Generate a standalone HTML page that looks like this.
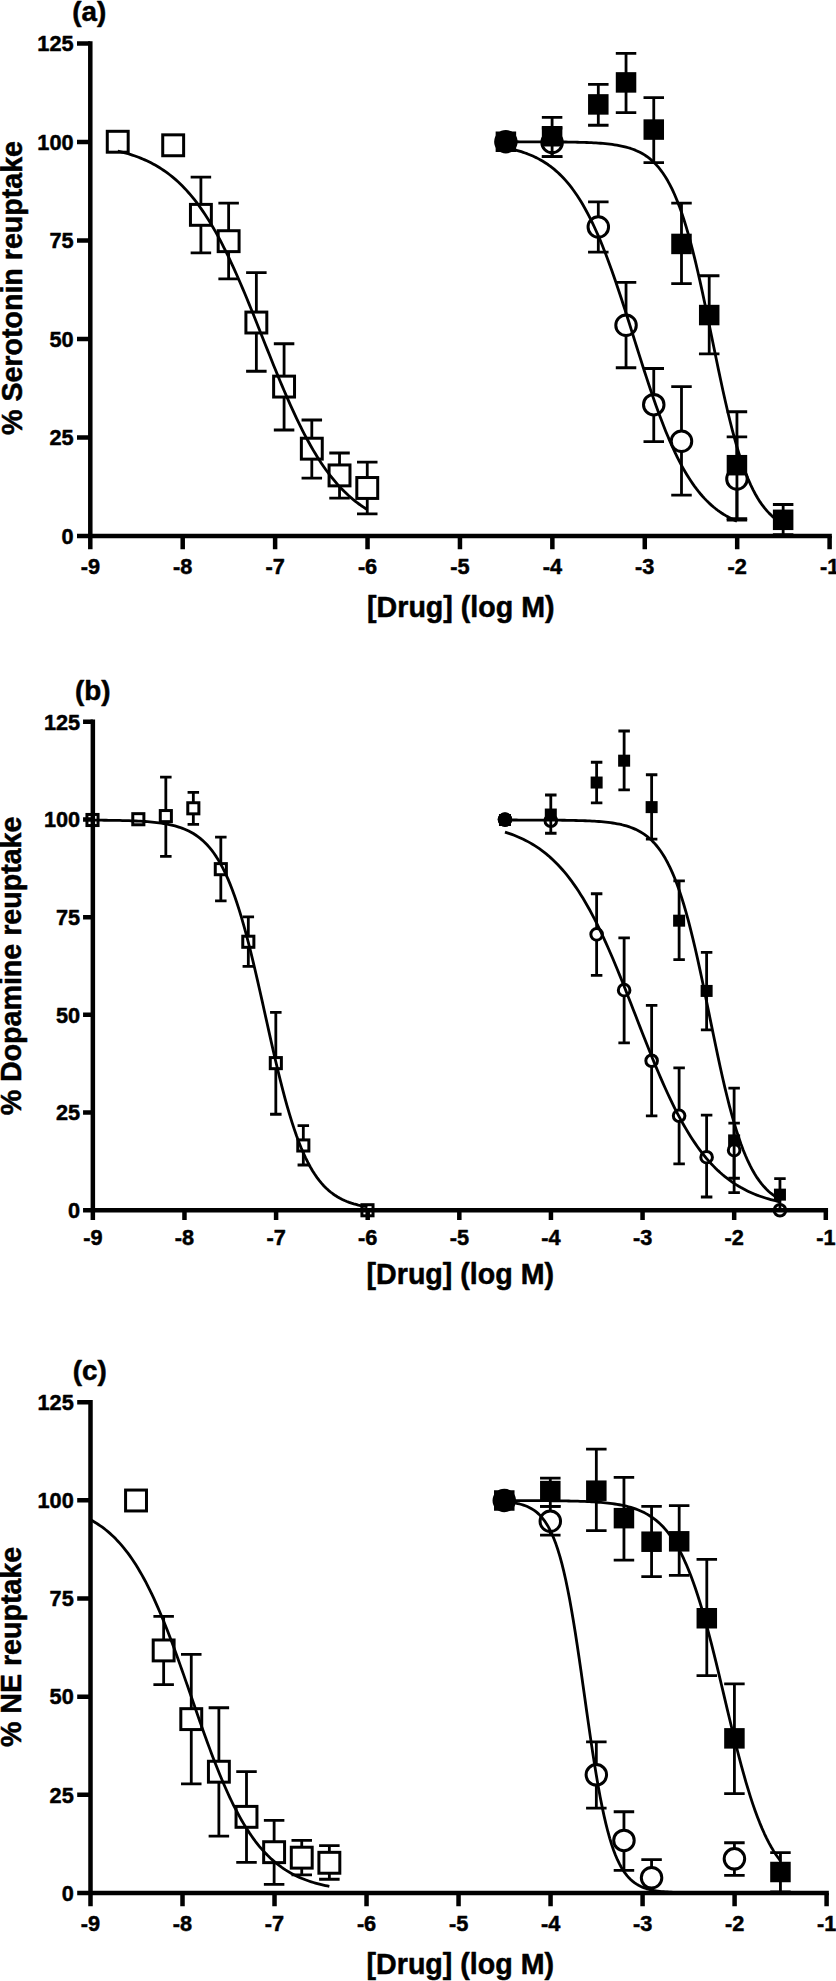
<!DOCTYPE html>
<html lang="en">
<head>
<meta charset="utf-8">
<title>Monoamine reuptake inhibition curves</title>
<style>
html,body{margin:0;padding:0;background:#fff;}
body{width:836px;height:1981px;overflow:hidden;font-family:'Liberation Sans', sans-serif;}
svg{display:block;}
</style>
</head>
<body>
<svg width="836" height="1981" viewBox="0 0 836 1981">
<rect x="0" y="0" width="836" height="1981" fill="#fff"/>
<g id="panel-a">
<rect x="107.28" y="131.3" width="20.9" height="20.9" fill="#fff" stroke="#000" stroke-width="3.0"/>
<rect x="162.73" y="134.84" width="20.9" height="20.9" fill="#fff" stroke="#000" stroke-width="3.0"/>
<path d="M200.9,177.12V252.97M190.65,177.12H211.15M190.65,252.97H211.15" fill="none" stroke="#000" stroke-width="2.8"/>
<rect x="190.45" y="204.4" width="20.9" height="20.9" fill="#fff" stroke="#000" stroke-width="3.0"/>
<path d="M228.63,203.06V278.91M218.38,203.06H238.88M218.38,278.91H238.88" fill="none" stroke="#000" stroke-width="2.8"/>
<rect x="218.18" y="230.73" width="20.9" height="20.9" fill="#fff" stroke="#000" stroke-width="3.0"/>
<path d="M256.36,272.62V371.26M246.11,272.62H266.61M246.11,371.26H266.61" fill="none" stroke="#000" stroke-width="2.8"/>
<rect x="245.91" y="312.08" width="20.9" height="20.9" fill="#fff" stroke="#000" stroke-width="3.0"/>
<path d="M284.08,343.75V430.02M273.83,343.75H294.33M273.83,430.02H294.33" fill="none" stroke="#000" stroke-width="2.8"/>
<rect x="273.63" y="376.14" width="20.9" height="20.9" fill="#fff" stroke="#000" stroke-width="3.0"/>
<path d="M311.81,419.99V478.16M301.56,419.99H322.06M301.56,478.16H322.06" fill="none" stroke="#000" stroke-width="2.8"/>
<rect x="301.36" y="438.23" width="20.9" height="20.9" fill="#fff" stroke="#000" stroke-width="3.0"/>
<path d="M339.53,453.01V498.2M329.28,453.01H349.78M329.28,498.2H349.78" fill="none" stroke="#000" stroke-width="2.8"/>
<rect x="329.08" y="464.96" width="20.9" height="20.9" fill="#fff" stroke="#000" stroke-width="3.0"/>
<path d="M367.26,462.05V513.92M357.01,462.05H377.51M357.01,513.92H377.51" fill="none" stroke="#000" stroke-width="2.8"/>
<rect x="356.81" y="477.53" width="20.9" height="20.9" fill="#fff" stroke="#000" stroke-width="3.0"/>
<circle cx="505.89" cy="141.75" r="10.25" fill="#fff" stroke="#000" stroke-width="3.0"/>
<path d="M552.1,128V156.68M541.85,128H562.35M541.85,156.68H562.35" fill="none" stroke="#000" stroke-width="2.8"/>
<circle cx="552.1" cy="142.54" r="10.25" fill="#fff" stroke="#000" stroke-width="3.0"/>
<path d="M598.31,201.88V252.18M588.06,201.88H608.56M588.06,252.18H608.56" fill="none" stroke="#000" stroke-width="2.8"/>
<circle cx="598.31" cy="227.03" r="10.25" fill="#fff" stroke="#000" stroke-width="3.0"/>
<path d="M626.04,282.44V367.73M615.79,282.44H636.29M615.79,367.73H636.29" fill="none" stroke="#000" stroke-width="2.8"/>
<circle cx="626.04" cy="325.28" r="10.25" fill="#fff" stroke="#000" stroke-width="3.0"/>
<path d="M653.76,368.51V441.61M643.51,368.51H664.01M643.51,441.61H664.01" fill="none" stroke="#000" stroke-width="2.8"/>
<circle cx="653.76" cy="404.67" r="10.25" fill="#fff" stroke="#000" stroke-width="3.0"/>
<path d="M681.49,386.59V495.06M671.24,386.59H691.74M671.24,495.06H691.74" fill="none" stroke="#000" stroke-width="2.8"/>
<circle cx="681.49" cy="441.22" r="10.25" fill="#fff" stroke="#000" stroke-width="3.0"/>
<path d="M736.94,436.89V520.21M726.69,436.89H747.19M726.69,520.21H747.19" fill="none" stroke="#000" stroke-width="2.8"/>
<circle cx="736.94" cy="478.94" r="10.25" fill="#fff" stroke="#000" stroke-width="3.0"/>
<rect x="495.64" y="131.5" width="20.5" height="20.5" fill="#000"/>
<path d="M552.1,117.38V156.68M541.85,117.38H562.35M541.85,156.68H562.35" fill="none" stroke="#000" stroke-width="2.8"/>
<rect x="541.85" y="126" width="20.5" height="20.5" fill="#000"/>
<path d="M598.31,84.37V125.24M588.06,84.37H608.56M588.06,125.24H608.56" fill="none" stroke="#000" stroke-width="2.8"/>
<rect x="588.06" y="94.16" width="20.5" height="20.5" fill="#000"/>
<path d="M626.04,53.32V112.67M615.79,53.32H636.29M615.79,112.67H636.29" fill="none" stroke="#000" stroke-width="2.8"/>
<rect x="615.79" y="72.16" width="20.5" height="20.5" fill="#000"/>
<path d="M653.76,97.54V162.58M643.51,97.54H664.01M643.51,162.58H664.01" fill="none" stroke="#000" stroke-width="2.8"/>
<rect x="643.51" y="119.32" width="20.5" height="20.5" fill="#000"/>
<path d="M681.49,203.06V283.62M671.24,203.06H691.74M671.24,283.62H691.74" fill="none" stroke="#000" stroke-width="2.8"/>
<rect x="671.24" y="233.68" width="20.5" height="20.5" fill="#000"/>
<path d="M709.21,275.76V353.97M698.96,275.76H719.46M698.96,353.97H719.46" fill="none" stroke="#000" stroke-width="2.8"/>
<rect x="698.96" y="304.81" width="20.5" height="20.5" fill="#000"/>
<path d="M736.94,411.74V518.64M726.69,411.74H747.19M726.69,518.64H747.19" fill="none" stroke="#000" stroke-width="2.8"/>
<rect x="726.69" y="454.94" width="20.5" height="20.5" fill="#000"/>
<path d="M783.15,504.49V534.75M772.9,504.49H793.4M772.9,534.75H793.4" fill="none" stroke="#000" stroke-width="2.8"/>
<rect x="772.9" y="509.57" width="20.5" height="20.5" fill="#000"/>
<path d="M117.73,151.02 L119.81,151.51 L121.88,152.03 L123.96,152.58 L126.04,153.16 L128.12,153.76 L130.2,154.4 L132.28,155.07 L134.36,155.78 L136.44,156.52 L138.52,157.29 L140.6,158.11 L142.68,158.97 L144.76,159.87 L146.84,160.81 L148.92,161.8 L151,162.84 L153.08,163.93 L155.16,165.08 L157.24,166.28 L159.31,167.53 L161.39,168.85 L163.47,170.23 L165.55,171.67 L167.63,173.18 L169.71,174.75 L171.79,176.4 L173.87,178.13 L175.95,179.93 L178.03,181.81 L180.11,183.77 L182.19,185.81 L184.27,187.94 L186.35,190.16 L188.43,192.48 L190.51,194.88 L192.59,197.38 L194.67,199.98 L196.75,202.67 L198.82,205.47 L200.9,208.37 L202.98,211.38 L205.06,214.49 L207.14,217.7 L209.22,221.03 L211.3,224.46 L213.38,228 L215.46,231.64 L217.54,235.4 L219.62,239.25 L221.7,243.22 L223.78,247.29 L225.86,251.46 L227.94,255.73 L230.02,260.09 L232.1,264.55 L234.18,269.1 L236.25,273.74 L238.33,278.46 L240.41,283.25 L242.49,288.12 L244.57,293.05 L246.65,298.05 L248.73,303.1 L250.81,308.2 L252.89,313.34 L254.97,318.51 L257.05,323.71 L259.13,328.94 L261.21,334.17 L263.29,339.42 L265.37,344.66 L267.45,349.89 L269.53,355.1 L271.61,360.29 L273.68,365.45 L275.76,370.58 L277.84,375.65 L279.92,380.68 L282,385.65 L284.08,390.55 L286.16,395.39 L288.24,400.15 L290.32,404.83 L292.4,409.43 L294.48,413.94 L296.56,418.36 L298.64,422.68 L300.72,426.91 L302.8,431.03 L304.88,435.06 L306.96,438.97 L309.04,442.79 L311.11,446.49 L313.19,450.09 L315.27,453.58 L317.35,456.96 L319.43,460.24 L321.51,463.41 L323.59,466.47 L325.67,469.43 L327.75,472.28 L329.83,475.04 L331.91,477.69 L333.99,480.24 L336.07,482.7 L338.15,485.06 L340.23,487.33 L342.31,489.51 L344.39,491.61 L346.47,493.61 L348.54,495.54 L350.62,497.38 L352.7,499.15 L354.78,500.84 L356.86,502.46 L358.94,504 L361.02,505.48 L363.1,506.89 L365.18,508.24 L367.26,509.53" fill="none" stroke="#000" stroke-width="2.8" stroke-linejoin="round"/>
<path d="M505.89,147.86 L507.82,148.24 L509.74,148.65 L511.67,149.09 L513.59,149.55 L515.52,150.04 L517.44,150.57 L519.37,151.12 L521.29,151.71 L523.22,152.33 L525.14,152.99 L527.07,153.69 L529,154.44 L530.92,155.22 L532.85,156.06 L534.77,156.95 L536.7,157.88 L538.62,158.88 L540.55,159.93 L542.47,161.04 L544.4,162.22 L546.32,163.46 L548.25,164.78 L550.17,166.16 L552.1,167.63 L554.03,169.18 L555.95,170.82 L557.88,172.54 L559.8,174.36 L561.73,176.27 L563.65,178.29 L565.58,180.41 L567.5,182.63 L569.43,184.98 L571.35,187.43 L573.28,190.01 L575.2,192.71 L577.13,195.55 L579.06,198.51 L580.98,201.6 L582.91,204.84 L584.83,208.21 L586.76,211.72 L588.68,215.38 L590.61,219.19 L592.53,223.14 L594.46,227.24 L596.38,231.48 L598.31,235.87 L600.24,240.41 L602.16,245.09 L604.09,249.91 L606.01,254.86 L607.94,259.95 L609.86,265.17 L611.79,270.51 L613.71,275.97 L615.64,281.53 L617.56,287.2 L619.49,292.95 L621.41,298.8 L623.34,304.71 L625.27,310.69 L627.19,316.72 L629.12,322.79 L631.04,328.89 L632.97,335.02 L634.89,341.14 L636.82,347.26 L638.74,353.37 L640.67,359.44 L642.59,365.47 L644.52,371.46 L646.45,377.37 L648.37,383.22 L650.3,388.98 L652.22,394.65 L654.15,400.23 L656.07,405.69 L658,411.03 L659.92,416.26 L661.85,421.35 L663.77,426.32 L665.7,431.15 L667.62,435.83 L669.55,440.38 L671.48,444.78 L673.4,449.03 L675.33,453.14 L677.25,457.1 L679.18,460.91 L681.1,464.57 L683.03,468.1 L684.95,471.48 L686.88,474.72 L688.8,477.82 L690.73,480.79 L692.66,483.63 L694.58,486.34 L696.51,488.93 L698.43,491.39 L700.36,493.74 L702.28,495.97 L704.21,498.1 L706.13,500.12 L708.06,502.04 L709.98,503.86 L711.91,505.59 L713.84,507.23 L715.76,508.78 L717.69,510.26 L719.61,511.65 L721.54,512.97 L723.46,514.22 L725.39,515.4 L727.31,516.51 L729.24,517.57 L731.16,518.56 L733.09,519.5 L735.01,520.39 L736.94,521.23" fill="none" stroke="#000" stroke-width="2.8" stroke-linejoin="round"/>
<path d="M505.89,141.76 L508.2,141.77 L510.51,141.77 L512.82,141.77 L515.13,141.77 L517.44,141.77 L519.75,141.78 L522.06,141.78 L524.37,141.78 L526.68,141.79 L529,141.79 L531.31,141.8 L533.62,141.8 L535.93,141.81 L538.24,141.82 L540.55,141.83 L542.86,141.84 L545.17,141.85 L547.48,141.86 L549.79,141.87 L552.1,141.89 L554.41,141.9 L556.72,141.92 L559.03,141.94 L561.34,141.97 L563.65,141.99 L565.96,142.02 L568.27,142.05 L570.58,142.09 L572.89,142.13 L575.2,142.18 L577.52,142.23 L579.83,142.29 L582.14,142.36 L584.45,142.43 L586.76,142.51 L589.07,142.61 L591.38,142.71 L593.69,142.83 L596,142.96 L598.31,143.11 L600.62,143.27 L602.93,143.46 L605.24,143.67 L607.55,143.9 L609.86,144.16 L612.17,144.45 L614.48,144.78 L616.79,145.14 L619.1,145.55 L621.41,146.01 L623.73,146.53 L626.04,147.1 L628.35,147.74 L630.66,148.46 L632.97,149.27 L635.28,150.16 L637.59,151.17 L639.9,152.28 L642.21,153.53 L644.52,154.92 L646.83,156.47 L649.14,158.19 L651.45,160.1 L653.76,162.22 L656.07,164.57 L658.38,167.18 L660.69,170.06 L663,173.24 L665.31,176.74 L667.62,180.58 L669.94,184.8 L672.25,189.42 L674.56,194.46 L676.87,199.93 L679.18,205.88 L681.49,212.3 L683.8,219.21 L686.11,226.62 L688.42,234.53 L690.73,242.93 L693.04,251.82 L695.35,261.17 L697.66,270.95 L699.97,281.13 L702.28,291.65 L704.59,302.46 L706.9,313.5 L709.21,324.7 L711.52,335.99 L713.84,347.29 L716.15,358.54 L718.46,369.65 L720.77,380.56 L723.08,391.2 L725.39,401.52 L727.7,411.47 L730.01,420.99 L732.32,430.07 L734.63,438.67 L736.94,446.78 L739.25,454.39 L741.56,461.5 L743.87,468.11 L746.18,474.25 L748.49,479.91 L750.8,485.12 L753.11,489.9 L755.42,494.27 L757.73,498.27 L760.04,501.9 L762.36,505.21 L764.67,508.2 L766.98,510.91 L769.29,513.37 L771.6,515.58 L773.91,517.57 L776.22,519.37 L778.53,520.98 L780.84,522.43 L783.15,523.73" fill="none" stroke="#000" stroke-width="2.8" stroke-linejoin="round"/>
<path d="M90.3,41.25V538.15M77,535.9H831.85" fill="none" stroke="#000" stroke-width="4.5"/>
<path d="M77,437.42H90.3M77,338.94H90.3M77,240.46H90.3M77,141.98H90.3M77,43.5H90.3M90.3,535.9V549.2M182.71,535.9V549.2M275.12,535.9V549.2M367.54,535.9V549.2M459.95,535.9V549.2M552.36,535.9V549.2M644.77,535.9V549.2M737.19,535.9V549.2M829.6,535.9V549.2" fill="none" stroke="#000" stroke-width="4.5"/>
<g font-family="'Liberation Sans', sans-serif" font-weight="bold" font-size="22.4" fill="#000" stroke="#000" stroke-width="0.5" stroke-linejoin="round">
<text transform="translate(73.55,543.67) scale(0.97,1)" text-anchor="end">0</text>
<text transform="translate(73.55,445.19) scale(0.97,1)" text-anchor="end">25</text>
<text transform="translate(73.55,346.71) scale(0.97,1)" text-anchor="end">50</text>
<text transform="translate(73.55,248.23) scale(0.97,1)" text-anchor="end">75</text>
<text transform="translate(73.55,149.75) scale(0.97,1)" text-anchor="end">100</text>
<text transform="translate(73.55,51.27) scale(0.97,1)" text-anchor="end">125</text>
<text transform="translate(90.3,573.8) scale(0.97,1)" text-anchor="middle">-9</text>
<text transform="translate(182.71,573.8) scale(0.97,1)" text-anchor="middle">-8</text>
<text transform="translate(275.12,573.8) scale(0.97,1)" text-anchor="middle">-7</text>
<text transform="translate(367.54,573.8) scale(0.97,1)" text-anchor="middle">-6</text>
<text transform="translate(459.95,573.8) scale(0.97,1)" text-anchor="middle">-5</text>
<text transform="translate(552.36,573.8) scale(0.97,1)" text-anchor="middle">-4</text>
<text transform="translate(644.77,573.8) scale(0.97,1)" text-anchor="middle">-3</text>
<text transform="translate(737.19,573.8) scale(0.97,1)" text-anchor="middle">-2</text>
<text transform="translate(829.6,573.8) scale(0.97,1)" text-anchor="middle">-1</text>
</g>
<g font-family="'Liberation Sans', sans-serif" font-weight="bold" fill="#000" stroke="#000" stroke-width="0.5" stroke-linejoin="round">
<text x="89.25" y="21" font-size="27.8" text-anchor="middle">(a)</text>
<text x="460.8" y="617" font-size="28.6" text-anchor="middle">[Drug] (log M)</text>
<text transform="translate(21.5,288) rotate(-90)" font-size="28.6" text-anchor="middle">% Serotonin reuptake</text>
</g>
</g>
<g id="panel-b">
<rect x="86.95" y="814.45" width="11.1" height="11.1" fill="#fff" stroke="#000" stroke-width="3.0"/>
<rect x="132.78" y="813.67" width="11.1" height="11.1" fill="#fff" stroke="#000" stroke-width="3.0"/>
<path d="M165.83,777.07V856.29M160.08,777.07H171.58M160.08,856.29H171.58" fill="none" stroke="#000" stroke-width="2.8"/>
<rect x="160.28" y="810.55" width="11.1" height="11.1" fill="#fff" stroke="#000" stroke-width="3.0"/>
<path d="M193.33,792.29V824.29M187.58,792.29H199.08M187.58,824.29H199.08" fill="none" stroke="#000" stroke-width="2.8"/>
<rect x="187.78" y="802.74" width="11.1" height="11.1" fill="#fff" stroke="#000" stroke-width="3.0"/>
<path d="M220.82,837.17V900.78M215.07,837.17H226.57M215.07,900.78H226.57" fill="none" stroke="#000" stroke-width="2.8"/>
<rect x="215.27" y="863.62" width="11.1" height="11.1" fill="#fff" stroke="#000" stroke-width="3.0"/>
<path d="M248.32,916.78V966.34M242.57,916.78H254.07M242.57,966.34H254.07" fill="none" stroke="#000" stroke-width="2.8"/>
<rect x="242.77" y="936.21" width="11.1" height="11.1" fill="#fff" stroke="#000" stroke-width="3.0"/>
<path d="M275.82,1012.39V1114.25M270.07,1012.39H281.57M270.07,1114.25H281.57" fill="none" stroke="#000" stroke-width="2.8"/>
<rect x="270.27" y="1057.58" width="11.1" height="11.1" fill="#fff" stroke="#000" stroke-width="3.0"/>
<path d="M303.32,1125.57V1164.98M297.57,1125.57H309.07M297.57,1164.98H309.07" fill="none" stroke="#000" stroke-width="2.8"/>
<rect x="297.77" y="1139.92" width="11.1" height="11.1" fill="#fff" stroke="#000" stroke-width="3.0"/>
<rect x="361.93" y="1204.7" width="11.1" height="11.1" fill="#fff" stroke="#000" stroke-width="3.0"/>
<circle cx="504.97" cy="819.61" r="5.8" fill="#fff" stroke="#000" stroke-width="3.0"/>
<circle cx="550.8" cy="820.78" r="5.8" fill="#fff" stroke="#000" stroke-width="3.0"/>
<path d="M596.63,893.76V975.32M590.88,893.76H602.38M590.88,975.32H602.38" fill="none" stroke="#000" stroke-width="2.8"/>
<circle cx="596.63" cy="934.34" r="5.8" fill="#fff" stroke="#000" stroke-width="3.0"/>
<path d="M624.13,937.86V1042.83M618.38,937.86H629.88M618.38,1042.83H629.88" fill="none" stroke="#000" stroke-width="2.8"/>
<circle cx="624.13" cy="990.15" r="5.8" fill="#fff" stroke="#000" stroke-width="3.0"/>
<path d="M651.63,1005.37V1115.81M645.88,1005.37H657.38M645.88,1115.81H657.38" fill="none" stroke="#000" stroke-width="2.8"/>
<circle cx="651.63" cy="1060.78" r="5.8" fill="#fff" stroke="#000" stroke-width="3.0"/>
<path d="M679.12,1067.81V1163.81M673.37,1067.81H684.87M673.37,1163.81H684.87" fill="none" stroke="#000" stroke-width="2.8"/>
<circle cx="679.12" cy="1115.81" r="5.8" fill="#fff" stroke="#000" stroke-width="3.0"/>
<path d="M706.62,1115.03V1196.98M700.87,1115.03H712.37M700.87,1196.98H712.37" fill="none" stroke="#000" stroke-width="2.8"/>
<circle cx="706.62" cy="1157.18" r="5.8" fill="#fff" stroke="#000" stroke-width="3.0"/>
<path d="M734.12,1123.22V1178.25M728.37,1123.22H739.87M728.37,1178.25H739.87" fill="none" stroke="#000" stroke-width="2.8"/>
<circle cx="734.12" cy="1150.15" r="5.8" fill="#fff" stroke="#000" stroke-width="3.0"/>
<circle cx="779.95" cy="1210.25" r="5.8" fill="#fff" stroke="#000" stroke-width="3.0"/>
<rect x="498.97" y="814" width="12" height="12" fill="#000"/>
<path d="M550.8,795.02V833.27M545.05,795.02H556.55M545.05,833.27H556.55" fill="none" stroke="#000" stroke-width="2.8"/>
<rect x="544.8" y="808.54" width="12" height="12" fill="#000"/>
<path d="M596.63,762.24V802.83M590.88,762.24H602.38M590.88,802.83H602.38" fill="none" stroke="#000" stroke-width="2.8"/>
<rect x="590.63" y="776.54" width="12" height="12" fill="#000"/>
<path d="M624.13,731.02V789.95M618.38,731.02H629.88M618.38,789.95H629.88" fill="none" stroke="#000" stroke-width="2.8"/>
<rect x="618.13" y="754.68" width="12" height="12" fill="#000"/>
<path d="M651.63,774.73V839.12M645.88,774.73H657.38M645.88,839.12H657.38" fill="none" stroke="#000" stroke-width="2.8"/>
<rect x="645.63" y="801.12" width="12" height="12" fill="#000"/>
<path d="M679.12,880.88V959.71M673.37,880.88H684.87M673.37,959.71H684.87" fill="none" stroke="#000" stroke-width="2.8"/>
<rect x="673.12" y="914.68" width="12" height="12" fill="#000"/>
<path d="M706.62,952.29V1029.95M700.87,952.29H712.37M700.87,1029.95H712.37" fill="none" stroke="#000" stroke-width="2.8"/>
<rect x="700.62" y="984.93" width="12" height="12" fill="#000"/>
<path d="M734.12,1088.1V1192.69M728.37,1088.1H739.87M728.37,1192.69H739.87" fill="none" stroke="#000" stroke-width="2.8"/>
<rect x="728.12" y="1134.4" width="12" height="12" fill="#000"/>
<path d="M779.95,1178.64V1210.25M774.2,1178.64H785.7M774.2,1210.25H785.7" fill="none" stroke="#000" stroke-width="2.8"/>
<rect x="773.95" y="1188.64" width="12" height="12" fill="#000"/>
<circle cx="504.97" cy="819.61" r="7.2" fill="#000"/>
<path d="M92.5,820.13 L94.79,820.15 L97.08,820.16 L99.37,820.18 L101.67,820.2 L103.96,820.23 L106.25,820.25 L108.54,820.28 L110.83,820.31 L113.12,820.34 L115.41,820.38 L117.71,820.43 L120,820.47 L122.29,820.53 L124.58,820.58 L126.87,820.65 L129.16,820.72 L131.46,820.8 L133.75,820.89 L136.04,820.99 L138.33,821.1 L140.62,821.22 L142.91,821.36 L145.2,821.51 L147.5,821.68 L149.79,821.87 L152.08,822.07 L154.37,822.3 L156.66,822.56 L158.95,822.84 L161.25,823.16 L163.54,823.51 L165.83,823.9 L168.12,824.33 L170.41,824.8 L172.7,825.33 L174.99,825.92 L177.29,826.57 L179.58,827.29 L181.87,828.09 L184.16,828.97 L186.45,829.95 L188.74,831.03 L191.03,832.22 L193.33,833.54 L195.62,834.99 L197.91,836.6 L200.2,838.37 L202.49,840.31 L204.78,842.45 L207.07,844.8 L209.37,847.38 L211.66,850.2 L213.95,853.28 L216.24,856.65 L218.53,860.33 L220.82,864.32 L223.12,868.65 L225.41,873.35 L227.7,878.41 L229.99,883.87 L232.28,889.73 L234.57,896.01 L236.86,902.7 L239.16,909.82 L241.45,917.35 L243.74,925.29 L246.03,933.63 L248.32,942.34 L250.61,951.41 L252.91,960.8 L255.2,970.46 L257.49,980.37 L259.78,990.46 L262.07,1000.68 L264.36,1010.99 L266.65,1021.32 L268.95,1031.62 L271.24,1041.82 L273.53,1051.88 L275.82,1061.74 L278.11,1071.35 L280.4,1080.68 L282.69,1089.68 L284.99,1098.32 L287.28,1106.58 L289.57,1114.44 L291.86,1121.89 L294.15,1128.92 L296.44,1135.53 L298.74,1141.72 L301.03,1147.5 L303.32,1152.88 L305.61,1157.87 L307.9,1162.49 L310.19,1166.76 L312.48,1170.68 L314.78,1174.29 L317.07,1177.61 L319.36,1180.64 L321.65,1183.41 L323.94,1185.94 L326.23,1188.24 L328.52,1190.34 L330.82,1192.25 L333.11,1193.98 L335.4,1195.56 L337.69,1196.98 L339.98,1198.28 L342.27,1199.45 L344.56,1200.51 L346.86,1201.46 L349.15,1202.33 L351.44,1203.11 L353.73,1203.82 L356.02,1204.45 L358.31,1205.03 L360.61,1205.55 L362.9,1206.01 L365.19,1206.44 L367.48,1206.82" fill="none" stroke="#000" stroke-width="2.8" stroke-linejoin="round"/>
<path d="M504.97,832.12 L507.26,832.85 L509.55,833.62 L511.84,834.44 L514.14,835.3 L516.43,836.22 L518.72,837.18 L521.01,838.21 L523.3,839.28 L525.59,840.42 L527.88,841.62 L530.18,842.89 L532.47,844.23 L534.76,845.64 L537.05,847.13 L539.34,848.69 L541.63,850.34 L543.93,852.08 L546.22,853.9 L548.51,855.82 L550.8,857.84 L553.09,859.95 L555.38,862.17 L557.67,864.5 L559.97,866.94 L562.26,869.49 L564.55,872.16 L566.84,874.96 L569.13,877.87 L571.42,880.92 L573.71,884.09 L576.01,887.39 L578.3,890.83 L580.59,894.4 L582.88,898.11 L585.17,901.95 L587.46,905.94 L589.76,910.05 L592.05,914.31 L594.34,918.7 L596.63,923.22 L598.92,927.88 L601.21,932.66 L603.5,937.56 L605.8,942.59 L608.09,947.72 L610.38,952.97 L612.67,958.32 L614.96,963.76 L617.25,969.29 L619.54,974.9 L621.84,980.58 L624.13,986.32 L626.42,992.12 L628.71,997.95 L631,1003.82 L633.29,1009.7 L635.59,1015.6 L637.88,1021.49 L640.17,1027.37 L642.46,1033.24 L644.75,1039.06 L647.04,1044.85 L649.33,1050.58 L651.63,1056.25 L653.92,1061.85 L656.21,1067.36 L658.5,1072.79 L660.79,1078.13 L663.08,1083.36 L665.38,1088.48 L667.67,1093.48 L669.96,1098.37 L672.25,1103.13 L674.54,1107.76 L676.83,1112.26 L679.12,1116.63 L681.42,1120.86 L683.71,1124.96 L686,1128.92 L688.29,1132.74 L690.58,1136.43 L692.87,1139.98 L695.16,1143.4 L697.46,1146.68 L699.75,1149.83 L702.04,1152.85 L704.33,1155.75 L706.62,1158.52 L708.91,1161.17 L711.2,1163.71 L713.5,1166.13 L715.79,1168.44 L718.08,1170.64 L720.37,1172.74 L722.66,1174.74 L724.95,1176.65 L727.25,1178.46 L729.54,1180.18 L731.83,1181.81 L734.12,1183.37 L736.41,1184.84 L738.7,1186.24 L740.99,1187.57 L743.29,1188.82 L745.58,1190.01 L747.87,1191.14 L750.16,1192.21 L752.45,1193.22 L754.74,1194.18 L757.03,1195.09 L759.33,1195.94 L761.62,1196.75 L763.91,1197.52 L766.2,1198.24 L768.49,1198.93 L770.78,1199.57 L773.08,1200.18 L775.37,1200.76 L777.66,1201.3 L779.95,1201.82" fill="none" stroke="#000" stroke-width="2.8" stroke-linejoin="round"/>
<path d="M504.97,820.01 L507.26,820.02 L509.55,820.02 L511.84,820.02 L514.14,820.02 L516.43,820.02 L518.72,820.03 L521.01,820.03 L523.3,820.03 L525.59,820.04 L527.88,820.04 L530.18,820.05 L532.47,820.05 L534.76,820.06 L537.05,820.07 L539.34,820.08 L541.63,820.09 L543.93,820.1 L546.22,820.11 L548.51,820.12 L550.8,820.14 L553.09,820.15 L555.38,820.17 L557.67,820.19 L559.97,820.21 L562.26,820.24 L564.55,820.27 L566.84,820.3 L569.13,820.34 L571.42,820.38 L573.71,820.43 L576.01,820.48 L578.3,820.54 L580.59,820.6 L582.88,820.68 L585.17,820.76 L587.46,820.85 L589.76,820.96 L592.05,821.07 L594.34,821.2 L596.63,821.35 L598.92,821.51 L601.21,821.7 L603.5,821.9 L605.8,822.13 L608.09,822.39 L610.38,822.68 L612.67,823.01 L614.96,823.37 L617.25,823.78 L619.54,824.23 L621.84,824.74 L624.13,825.31 L626.42,825.95 L628.71,826.67 L631,827.46 L633.29,828.35 L635.59,829.35 L637.88,830.46 L640.17,831.7 L642.46,833.08 L644.75,834.61 L647.04,836.32 L649.33,838.22 L651.63,840.33 L653.92,842.67 L656.21,845.25 L658.5,848.11 L660.79,851.27 L663.08,854.74 L665.38,858.56 L667.67,862.75 L669.96,867.34 L672.25,872.34 L674.54,877.78 L676.83,883.68 L679.12,890.05 L681.42,896.91 L683.71,904.27 L686,912.13 L688.29,920.48 L690.58,929.3 L692.87,938.59 L695.16,948.3 L697.46,958.4 L699.75,968.85 L702.04,979.58 L704.33,990.55 L706.62,1001.67 L708.91,1012.88 L711.2,1024.1 L713.5,1035.27 L715.79,1046.31 L718.08,1057.14 L720.37,1067.71 L722.66,1077.95 L724.95,1087.83 L727.25,1097.29 L729.54,1106.3 L731.83,1114.84 L734.12,1122.89 L736.41,1130.45 L738.7,1137.51 L740.99,1144.08 L743.29,1150.17 L745.58,1155.79 L747.87,1160.97 L750.16,1165.71 L752.45,1170.06 L754.74,1174.02 L757.03,1177.63 L759.33,1180.91 L761.62,1183.89 L763.91,1186.58 L766.2,1189.02 L768.49,1191.21 L770.78,1193.19 L773.08,1194.97 L775.37,1196.58 L777.66,1198.02 L779.95,1199.31" fill="none" stroke="#000" stroke-width="2.8" stroke-linejoin="round"/>
<path d="M92.85,719.5V1212.5M83.05,1210.25H828.05" fill="none" stroke="#000" stroke-width="4.5"/>
<path d="M83.05,1112.55H92.85M83.05,1014.85H92.85M83.05,917.15H92.85M83.05,819.45H92.85M83.05,721.75H92.85M92.85,1210.25V1220.05M184.47,1210.25V1220.05M276.09,1210.25V1220.05M367.71,1210.25V1220.05M459.32,1210.25V1220.05M550.94,1210.25V1220.05M642.56,1210.25V1220.05M734.18,1210.25V1220.05M825.8,1210.25V1220.05" fill="none" stroke="#000" stroke-width="4.5"/>
<g font-family="'Liberation Sans', sans-serif" font-weight="bold" font-size="22.4" fill="#000" stroke="#000" stroke-width="0.5" stroke-linejoin="round">
<text transform="translate(80.2,1218.02) scale(0.97,1)" text-anchor="end">0</text>
<text transform="translate(80.2,1120.32) scale(0.97,1)" text-anchor="end">25</text>
<text transform="translate(80.2,1022.62) scale(0.97,1)" text-anchor="end">50</text>
<text transform="translate(80.2,924.92) scale(0.97,1)" text-anchor="end">75</text>
<text transform="translate(80.2,827.22) scale(0.97,1)" text-anchor="end">100</text>
<text transform="translate(80.2,729.52) scale(0.97,1)" text-anchor="end">125</text>
<text transform="translate(92.85,1245.25) scale(0.97,1)" text-anchor="middle">-9</text>
<text transform="translate(184.47,1245.25) scale(0.97,1)" text-anchor="middle">-8</text>
<text transform="translate(276.09,1245.25) scale(0.97,1)" text-anchor="middle">-7</text>
<text transform="translate(367.71,1245.25) scale(0.97,1)" text-anchor="middle">-6</text>
<text transform="translate(459.32,1245.25) scale(0.97,1)" text-anchor="middle">-5</text>
<text transform="translate(550.94,1245.25) scale(0.97,1)" text-anchor="middle">-4</text>
<text transform="translate(642.56,1245.25) scale(0.97,1)" text-anchor="middle">-3</text>
<text transform="translate(734.18,1245.25) scale(0.97,1)" text-anchor="middle">-2</text>
<text transform="translate(825.8,1245.25) scale(0.97,1)" text-anchor="middle">-1</text>
</g>
<g font-family="'Liberation Sans', sans-serif" font-weight="bold" fill="#000" stroke="#000" stroke-width="0.5" stroke-linejoin="round">
<text x="92.8" y="699.5" font-size="27.8" text-anchor="middle">(b)</text>
<text x="460.3" y="1283.7" font-size="28.6" text-anchor="middle">[Drug] (log M)</text>
<text transform="translate(20.8,966) rotate(-90)" font-size="28.6" text-anchor="middle">% Dopamine reuptake</text>
</g>
</g>
<g id="panel-c">
<rect x="125.58" y="1490.05" width="20.9" height="20.9" fill="#fff" stroke="#000" stroke-width="3.0"/>
<path d="M163.65,1616.29V1684.58M153.4,1616.29H173.9M153.4,1684.58H173.9" fill="none" stroke="#000" stroke-width="2.8"/>
<rect x="153.2" y="1639.98" width="20.9" height="20.9" fill="#fff" stroke="#000" stroke-width="3.0"/>
<path d="M191.27,1654.36V1783.88M181.02,1654.36H201.52M181.02,1783.88H201.52" fill="none" stroke="#000" stroke-width="2.8"/>
<rect x="180.82" y="1708.67" width="20.9" height="20.9" fill="#fff" stroke="#000" stroke-width="3.0"/>
<path d="M218.88,1707.74V1836.09M208.63,1707.74H229.13M208.63,1836.09H229.13" fill="none" stroke="#000" stroke-width="2.8"/>
<rect x="208.43" y="1761.27" width="20.9" height="20.9" fill="#fff" stroke="#000" stroke-width="3.0"/>
<path d="M246.5,1771.72V1862.38M236.25,1771.72H256.75M236.25,1862.38H256.75" fill="none" stroke="#000" stroke-width="2.8"/>
<rect x="236.05" y="1806.4" width="20.9" height="20.9" fill="#fff" stroke="#000" stroke-width="3.0"/>
<path d="M274.12,1820.39V1884.37M263.87,1820.39H284.37M263.87,1884.37H284.37" fill="none" stroke="#000" stroke-width="2.8"/>
<rect x="263.67" y="1841.73" width="20.9" height="20.9" fill="#fff" stroke="#000" stroke-width="3.0"/>
<path d="M301.74,1840.4V1874.94M291.49,1840.4H311.99M291.49,1874.94H311.99" fill="none" stroke="#000" stroke-width="2.8"/>
<rect x="291.29" y="1847.22" width="20.9" height="20.9" fill="#fff" stroke="#000" stroke-width="3.0"/>
<path d="M329.36,1845.7V1879.26M319.11,1845.7H339.61M319.11,1879.26H339.61" fill="none" stroke="#000" stroke-width="2.8"/>
<rect x="318.91" y="1852.33" width="20.9" height="20.9" fill="#fff" stroke="#000" stroke-width="3.0"/>
<circle cx="504.27" cy="1500.5" r="10.25" fill="#fff" stroke="#000" stroke-width="3.0"/>
<path d="M550.3,1506.39V1535.04M540.05,1506.39H560.55M540.05,1535.04H560.55" fill="none" stroke="#000" stroke-width="2.8"/>
<circle cx="550.3" cy="1521.3" r="10.25" fill="#fff" stroke="#000" stroke-width="3.0"/>
<path d="M596.33,1741.89V1808.22M586.08,1741.89H606.58M586.08,1808.22H606.58" fill="none" stroke="#000" stroke-width="2.8"/>
<circle cx="596.33" cy="1774.86" r="10.25" fill="#fff" stroke="#000" stroke-width="3.0"/>
<path d="M623.95,1811.75V1870.43M613.7,1811.75H634.2M613.7,1870.43H634.2" fill="none" stroke="#000" stroke-width="2.8"/>
<circle cx="623.95" cy="1840.4" r="10.25" fill="#fff" stroke="#000" stroke-width="3.0"/>
<path d="M651.57,1859.64V1893M641.32,1859.64H661.82M641.32,1893H661.82" fill="none" stroke="#000" stroke-width="2.8"/>
<circle cx="651.57" cy="1877.69" r="10.25" fill="#fff" stroke="#000" stroke-width="3.0"/>
<path d="M734.42,1842.76V1875.34M724.17,1842.76H744.67M724.17,1875.34H744.67" fill="none" stroke="#000" stroke-width="2.8"/>
<circle cx="734.42" cy="1858.85" r="10.25" fill="#fff" stroke="#000" stroke-width="3.0"/>
<rect x="494.02" y="1490.25" width="20.5" height="20.5" fill="#000"/>
<path d="M550.3,1478.13V1506.39M540.05,1478.13H560.55M540.05,1506.39H560.55" fill="none" stroke="#000" stroke-width="2.8"/>
<rect x="540.05" y="1480.83" width="20.5" height="20.5" fill="#000"/>
<path d="M596.33,1449.08V1530.72M586.08,1449.08H606.58M586.08,1530.72H606.58" fill="none" stroke="#000" stroke-width="2.8"/>
<rect x="586.08" y="1480.44" width="20.5" height="20.5" fill="#000"/>
<path d="M623.95,1477.34V1560.16M613.7,1477.34H634.2M613.7,1560.16H634.2" fill="none" stroke="#000" stroke-width="2.8"/>
<rect x="613.7" y="1507.91" width="20.5" height="20.5" fill="#000"/>
<path d="M651.57,1506.39V1576.64M641.32,1506.39H661.82M641.32,1576.64H661.82" fill="none" stroke="#000" stroke-width="2.8"/>
<rect x="641.32" y="1531.46" width="20.5" height="20.5" fill="#000"/>
<path d="M679.18,1505.6V1575.47M668.93,1505.6H689.43M668.93,1575.47H689.43" fill="none" stroke="#000" stroke-width="2.8"/>
<rect x="668.93" y="1531.07" width="20.5" height="20.5" fill="#000"/>
<path d="M706.8,1559.38V1675.56M696.55,1559.38H717.05M696.55,1675.56H717.05" fill="none" stroke="#000" stroke-width="2.8"/>
<rect x="696.55" y="1608" width="20.5" height="20.5" fill="#000"/>
<path d="M734.42,1683.8V1793.7M724.17,1683.8H744.67M724.17,1793.7H744.67" fill="none" stroke="#000" stroke-width="2.8"/>
<rect x="724.17" y="1728.11" width="20.5" height="20.5" fill="#000"/>
<path d="M780.45,1852.57V1891.82M770.2,1852.57H790.7M770.2,1891.82H790.7" fill="none" stroke="#000" stroke-width="2.8"/>
<rect x="770.2" y="1861.75" width="20.5" height="20.5" fill="#000"/>
<path d="M90,1519.5 L91.99,1520.59 L93.99,1521.73 L95.98,1522.94 L97.98,1524.22 L99.97,1525.56 L101.97,1526.97 L103.96,1528.46 L105.96,1530.02 L107.95,1531.66 L109.95,1533.39 L111.94,1535.2 L113.94,1537.1 L115.93,1539.09 L117.92,1541.19 L119.92,1543.37 L121.91,1545.67 L123.91,1548.07 L125.9,1550.57 L127.9,1553.19 L129.89,1555.93 L131.89,1558.78 L133.88,1561.75 L135.88,1564.85 L137.87,1568.06 L139.87,1571.41 L141.86,1574.88 L143.86,1578.48 L145.85,1582.21 L147.84,1586.08 L149.84,1590.07 L151.83,1594.19 L153.83,1598.44 L155.82,1602.81 L157.82,1607.31 L159.81,1611.93 L161.81,1616.67 L163.8,1621.53 L165.8,1626.49 L167.79,1631.56 L169.79,1636.74 L171.78,1642 L173.77,1647.35 L175.77,1652.78 L177.76,1658.28 L179.76,1663.85 L181.75,1669.47 L183.75,1675.14 L185.74,1680.84 L187.74,1686.57 L189.73,1692.32 L191.73,1698.08 L193.72,1703.83 L195.72,1709.57 L197.71,1715.29 L199.7,1720.98 L201.7,1726.63 L203.69,1732.23 L205.69,1737.76 L207.68,1743.23 L209.68,1748.63 L211.67,1753.94 L213.67,1759.16 L215.66,1764.29 L217.66,1769.31 L219.65,1774.23 L221.65,1779.03 L223.64,1783.72 L225.64,1788.28 L227.63,1792.72 L229.62,1797.04 L231.62,1801.23 L233.61,1805.29 L235.61,1809.22 L237.6,1813.02 L239.6,1816.69 L241.59,1820.24 L243.59,1823.65 L245.58,1826.94 L247.58,1830.1 L249.57,1833.14 L251.57,1836.05 L253.56,1838.85 L255.55,1841.53 L257.55,1844.1 L259.54,1846.55 L261.54,1848.9 L263.53,1851.15 L265.53,1853.29 L267.52,1855.34 L269.52,1857.29 L271.51,1859.15 L273.51,1860.92 L275.5,1862.61 L277.5,1864.21 L279.49,1865.74 L281.48,1867.19 L283.48,1868.57 L285.47,1869.88 L287.47,1871.12 L289.46,1872.3 L291.46,1873.42 L293.45,1874.49 L295.45,1875.49 L297.44,1876.45 L299.44,1877.36 L301.43,1878.21 L303.43,1879.03 L305.42,1879.8 L307.42,1880.52 L309.41,1881.21 L311.4,1881.87 L313.4,1882.48 L315.39,1883.07 L317.39,1883.62 L319.38,1884.14 L321.38,1884.64 L323.37,1885.1 L325.37,1885.54 L327.36,1885.96 L329.36,1886.36" fill="none" stroke="#000" stroke-width="2.8" stroke-linejoin="round"/>
<path d="M504.27,1501.65 L506.19,1501.82 L508.11,1502.02 L510.02,1502.24 L511.94,1502.5 L513.86,1502.8 L515.78,1503.14 L517.7,1503.53 L519.61,1503.98 L521.53,1504.49 L523.45,1505.08 L525.37,1505.76 L527.29,1506.53 L529.2,1507.42 L531.12,1508.43 L533.04,1509.58 L534.96,1510.9 L536.87,1512.41 L538.79,1514.12 L540.71,1516.08 L542.63,1518.3 L544.55,1520.81 L546.46,1523.67 L548.38,1526.89 L550.3,1530.53 L552.22,1534.62 L554.14,1539.21 L556.05,1544.35 L557.97,1550.07 L559.89,1556.41 L561.81,1563.42 L563.73,1571.12 L565.64,1579.54 L567.56,1588.68 L569.48,1598.56 L571.4,1609.14 L573.32,1620.4 L575.23,1632.29 L577.15,1644.73 L579.07,1657.64 L580.99,1670.91 L582.9,1684.43 L584.82,1698.06 L586.74,1711.68 L588.66,1725.16 L590.58,1738.37 L592.49,1751.2 L594.41,1763.54 L596.33,1775.31 L598.25,1786.45 L600.17,1796.9 L602.08,1806.63 L604,1815.64 L605.92,1823.92 L607.84,1831.48 L609.76,1838.36 L611.67,1844.58 L613.59,1850.18 L615.51,1855.21 L617.43,1859.7 L619.35,1863.7 L621.26,1867.26 L623.18,1870.41 L625.1,1873.19 L627.02,1875.65 L628.93,1877.82 L630.85,1879.72 L632.77,1881.4 L634.69,1882.86 L636.61,1884.15 L638.52,1885.28 L640.44,1886.26 L642.36,1887.13 L644.28,1887.88 L646.2,1888.54 L648.11,1889.11 L650.03,1889.61 L651.95,1890.05 L653.87,1890.43 L655.79,1890.76 L657.7,1891.05 L659.62,1891.3 L661.54,1891.52 L663.46,1891.71 L665.38,1891.88 L667.29,1892.02 L669.21,1892.15 L671.13,1892.26 L673.05,1892.36 L674.96,1892.44 L676.88,1892.51 L678.8,1892.58 L680.72,1892.63 L682.64,1892.68 L684.55,1892.72 L686.47,1892.76 L688.39,1892.79 L690.31,1892.82 L692.23,1892.84 L694.14,1892.86 L696.06,1892.88 L697.98,1892.89 L699.9,1892.91 L701.82,1892.92 L703.73,1892.93 L705.65,1892.94 L707.57,1892.95 L709.49,1892.95 L711.4,1892.96 L713.32,1892.97 L715.24,1892.97 L717.16,1892.97 L719.08,1892.98 L720.99,1892.98 L722.91,1892.98 L724.83,1892.98 L726.75,1892.99 L728.67,1892.99 L730.58,1892.99 L732.5,1892.99 L734.42,1892.99" fill="none" stroke="#000" stroke-width="2.8" stroke-linejoin="round"/>
<path d="M504.27,1500.53 L506.57,1500.53 L508.87,1500.54 L511.17,1500.54 L513.48,1500.55 L515.78,1500.55 L518.08,1500.56 L520.38,1500.56 L522.68,1500.57 L524.98,1500.57 L527.29,1500.58 L529.59,1500.59 L531.89,1500.6 L534.19,1500.61 L536.49,1500.62 L538.79,1500.63 L541.09,1500.65 L543.4,1500.66 L545.7,1500.68 L548,1500.7 L550.3,1500.72 L552.6,1500.74 L554.9,1500.77 L557.2,1500.8 L559.51,1500.83 L561.81,1500.86 L564.11,1500.9 L566.41,1500.94 L568.71,1500.99 L571.01,1501.04 L573.32,1501.09 L575.62,1501.15 L577.92,1501.22 L580.22,1501.3 L582.52,1501.38 L584.82,1501.47 L587.12,1501.57 L589.43,1501.68 L591.73,1501.8 L594.03,1501.94 L596.33,1502.09 L598.63,1502.25 L600.93,1502.44 L603.23,1502.64 L605.54,1502.86 L607.84,1503.1 L610.14,1503.37 L612.44,1503.67 L614.74,1503.99 L617.04,1504.35 L619.35,1504.75 L621.65,1505.19 L623.95,1505.67 L626.25,1506.2 L628.55,1506.78 L630.85,1507.42 L633.15,1508.13 L635.46,1508.91 L637.76,1509.76 L640.06,1510.7 L642.36,1511.73 L644.66,1512.86 L646.96,1514.11 L649.26,1515.47 L651.57,1516.96 L653.87,1518.59 L656.17,1520.38 L658.47,1522.34 L660.77,1524.47 L663.07,1526.8 L665.38,1529.33 L667.68,1532.09 L669.98,1535.09 L672.28,1538.34 L674.58,1541.87 L676.88,1545.68 L679.18,1549.79 L681.49,1554.22 L683.79,1558.98 L686.09,1564.08 L688.39,1569.53 L690.69,1575.34 L692.99,1581.53 L695.29,1588.08 L697.6,1595 L699.9,1602.28 L702.2,1609.92 L704.5,1617.9 L706.8,1626.21 L709.1,1634.82 L711.4,1643.7 L713.71,1652.82 L716.01,1662.14 L718.31,1671.63 L720.61,1681.24 L722.91,1690.92 L725.21,1700.64 L727.52,1710.33 L729.82,1719.96 L732.12,1729.47 L734.42,1738.83 L736.72,1748 L739.02,1756.93 L741.32,1765.59 L743.63,1773.96 L745.93,1782.01 L748.23,1789.72 L750.53,1797.07 L752.83,1804.07 L755.13,1810.69 L757.44,1816.95 L759.74,1822.84 L762.04,1828.36 L764.34,1833.53 L766.64,1838.36 L768.94,1842.85 L771.24,1847.02 L773.55,1850.89 L775.85,1854.47 L778.15,1857.78 L780.45,1860.83" fill="none" stroke="#000" stroke-width="2.8" stroke-linejoin="round"/>
<path d="M90.5,1399.95V1895.25M77.2,1893H828.85" fill="none" stroke="#000" stroke-width="4.5"/>
<path d="M77.2,1794.84H90.5M77.2,1696.68H90.5M77.2,1598.52H90.5M77.2,1500.36H90.5M77.2,1402.2H90.5M90.5,1893V1906.3M182.51,1893V1906.3M274.52,1893V1906.3M366.54,1893V1906.3M458.55,1893V1906.3M550.56,1893V1906.3M642.58,1893V1906.3M734.59,1893V1906.3M826.6,1893V1906.3" fill="none" stroke="#000" stroke-width="4.5"/>
<g font-family="'Liberation Sans', sans-serif" font-weight="bold" font-size="22.4" fill="#000" stroke="#000" stroke-width="0.5" stroke-linejoin="round">
<text transform="translate(73.75,1900.77) scale(0.97,1)" text-anchor="end">0</text>
<text transform="translate(73.75,1802.61) scale(0.97,1)" text-anchor="end">25</text>
<text transform="translate(73.75,1704.45) scale(0.97,1)" text-anchor="end">50</text>
<text transform="translate(73.75,1606.29) scale(0.97,1)" text-anchor="end">75</text>
<text transform="translate(73.75,1508.13) scale(0.97,1)" text-anchor="end">100</text>
<text transform="translate(73.75,1409.97) scale(0.97,1)" text-anchor="end">125</text>
<text transform="translate(90.5,1930.9) scale(0.97,1)" text-anchor="middle">-9</text>
<text transform="translate(182.51,1930.9) scale(0.97,1)" text-anchor="middle">-8</text>
<text transform="translate(274.52,1930.9) scale(0.97,1)" text-anchor="middle">-7</text>
<text transform="translate(366.54,1930.9) scale(0.97,1)" text-anchor="middle">-6</text>
<text transform="translate(458.55,1930.9) scale(0.97,1)" text-anchor="middle">-5</text>
<text transform="translate(550.56,1930.9) scale(0.97,1)" text-anchor="middle">-4</text>
<text transform="translate(642.58,1930.9) scale(0.97,1)" text-anchor="middle">-3</text>
<text transform="translate(734.59,1930.9) scale(0.97,1)" text-anchor="middle">-2</text>
<text transform="translate(826.6,1930.9) scale(0.97,1)" text-anchor="middle">-1</text>
</g>
<g font-family="'Liberation Sans', sans-serif" font-weight="bold" fill="#000" stroke="#000" stroke-width="0.5" stroke-linejoin="round">
<text x="89.8" y="1379.5" font-size="27.8" text-anchor="middle">(c)</text>
<text x="460.3" y="1974.2" font-size="28.6" text-anchor="middle">[Drug] (log M)</text>
<text transform="translate(21.3,1647) rotate(-90)" font-size="28.6" text-anchor="middle">% NE reuptake</text>
</g>
</g>
</svg>
</body>
</html>
